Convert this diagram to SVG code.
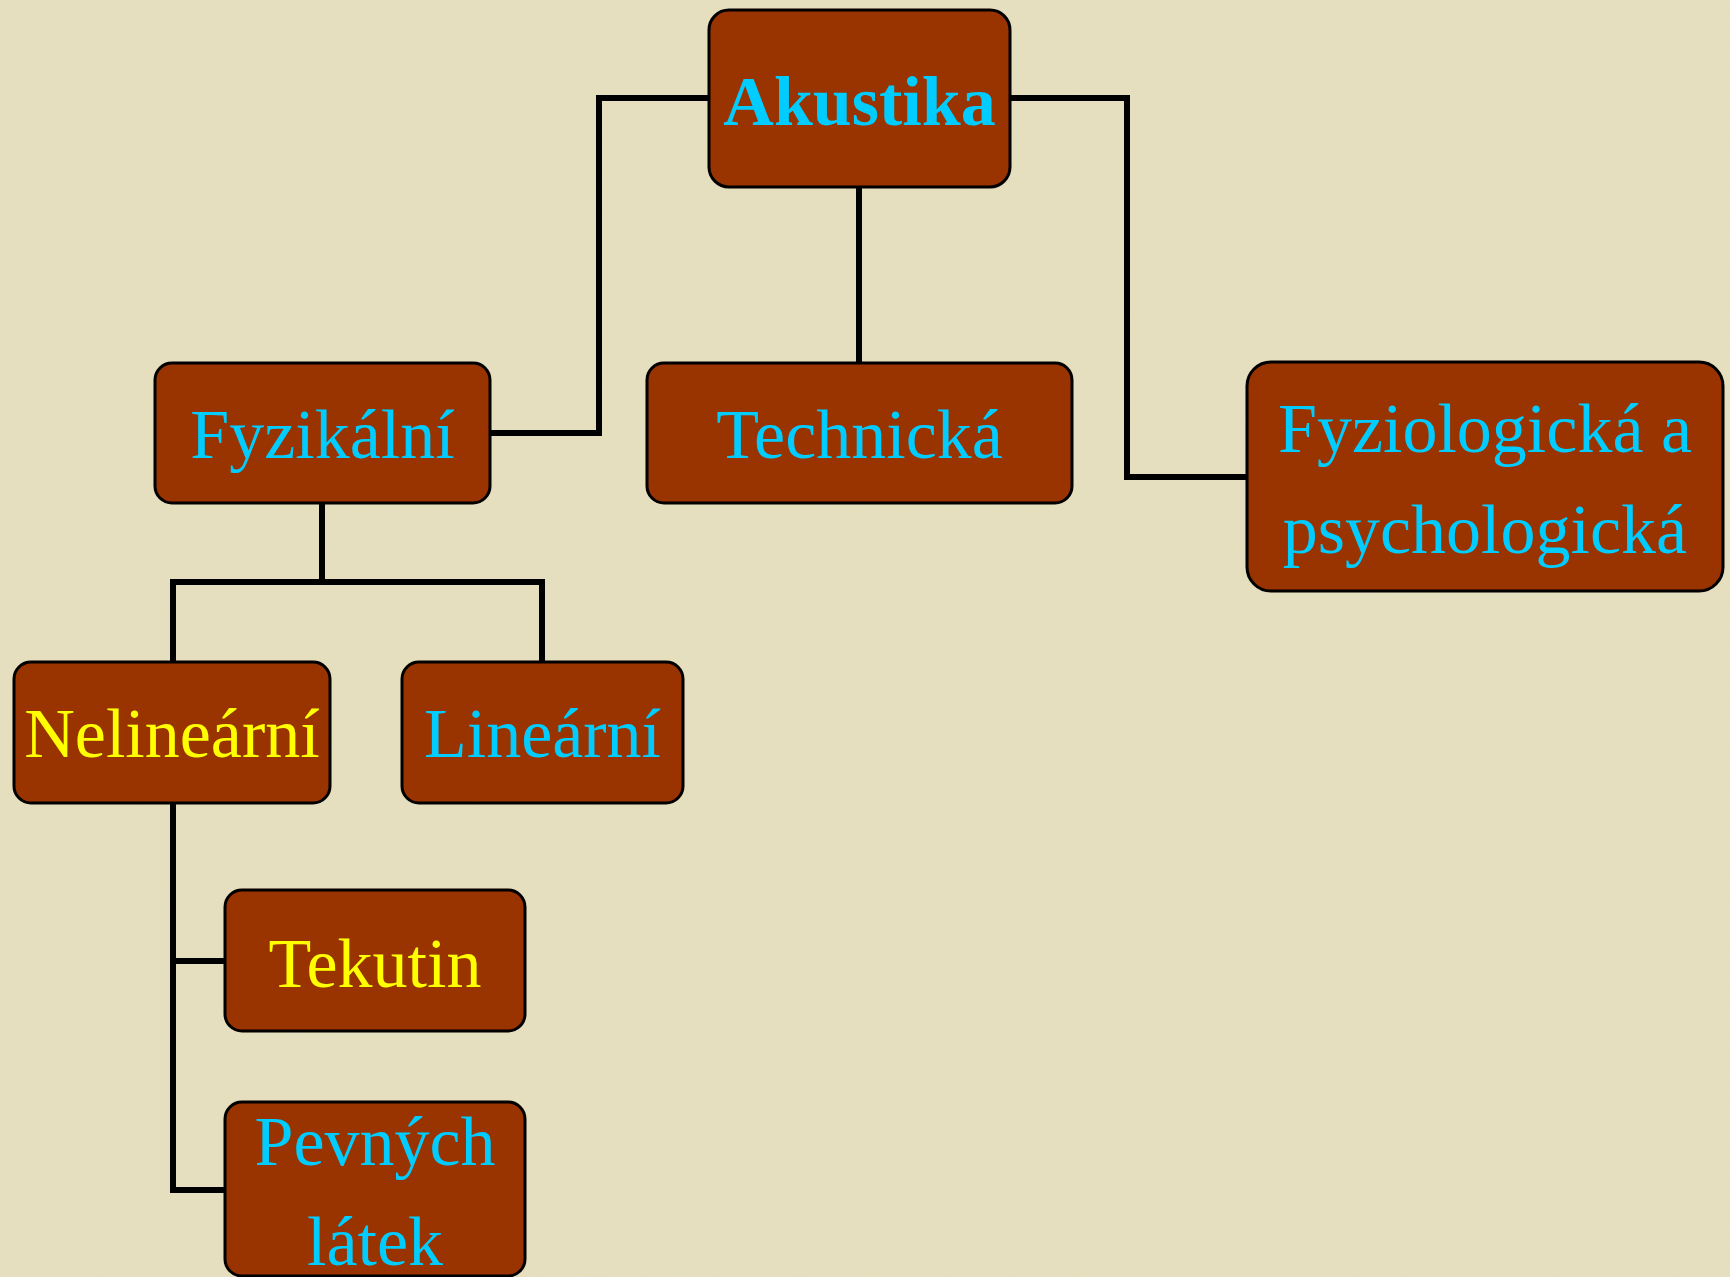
<svg xmlns="http://www.w3.org/2000/svg" width="1730" height="1277" viewBox="0 0 1730 1277">
<defs>
<style>
.box{fill:#993300;stroke:#000;stroke-width:3}
.t{font-family:"Liberation Serif","Times New Roman",serif;font-size:70px;text-anchor:middle}
.c{fill:#00CCFF}
.y{fill:#FFFF00}
.b{font-weight:bold}
.con{fill:none;stroke:#000;stroke-width:6;stroke-linejoin:miter}
</style>
<filter id="tex" x="0" y="0" width="100%" height="100%">
<feTurbulence type="fractalNoise" baseFrequency="0.35" numOctaves="2" seed="3" result="n"/>
<feColorMatrix in="n" type="matrix" values="0 0 0 0 0.75  0 0 0 0 0.72  0 0 0 0 0.58  0 0 0 -1.6 1.0" />
</filter>
</defs>
<rect width="1730" height="1277" fill="#e6dfbe"/>
<rect width="1730" height="1277" filter="url(#tex)" opacity="0.35"/>
<g id="connectors">
<polyline class="con" points="709,98 599,98 599,433 490,433"/>
<polyline class="con" points="859,187 859,363"/>
<polyline class="con" points="1010,98 1127,98 1127,477 1247,477"/>
<polyline class="con" points="322,503 322,582"/>
<polyline class="con" points="173,662 173,582 542,582 542,662"/>
<polyline class="con" points="173,803 173,1190 225,1190"/>
<polyline class="con" points="173,961 225,961"/>
</g>
<g id="akustika">
<rect class="box" x="709" y="10" width="301" height="177" rx="20"/>
<text class="t c b" x="859.5" y="125">Akustika</text>
</g>
<g id="fyzikalni">
<rect class="box" x="155" y="363" width="335" height="140" rx="17"/>
<text class="t c" x="322.5" y="458">Fyzikální</text>
</g>
<g id="technicka">
<rect class="box" x="647" y="363" width="425" height="140" rx="17"/>
<text class="t c" x="859.5" y="458">Technická</text>
</g>
<g id="fyziologicka">
<rect class="box" x="1247" y="362" width="476" height="229" rx="24"/>
<text class="t c" x="1485" y="452">Fyziologická a</text>
<text class="t c" x="1485" y="553">psychologická</text>
</g>
<g id="nelinearni">
<rect class="box" x="14" y="662" width="316" height="141" rx="17"/>
<text class="t y" x="172" y="757">Nelineární</text>
</g>
<g id="linearni">
<rect class="box" x="402" y="662" width="281" height="141" rx="17"/>
<text class="t c" x="542.5" y="757">Lineární</text>
</g>
<g id="tekutin">
<rect class="box" x="225" y="890" width="300" height="141" rx="17"/>
<text class="t y" x="375" y="987">Tekutin</text>
</g>
<g id="pevnych">
<rect class="box" x="225" y="1102" width="300" height="174" rx="17"/>
<text class="t c" x="375" y="1165">Pevných</text>
<text class="t c" x="375" y="1265">látek</text>
</g>
</svg>
